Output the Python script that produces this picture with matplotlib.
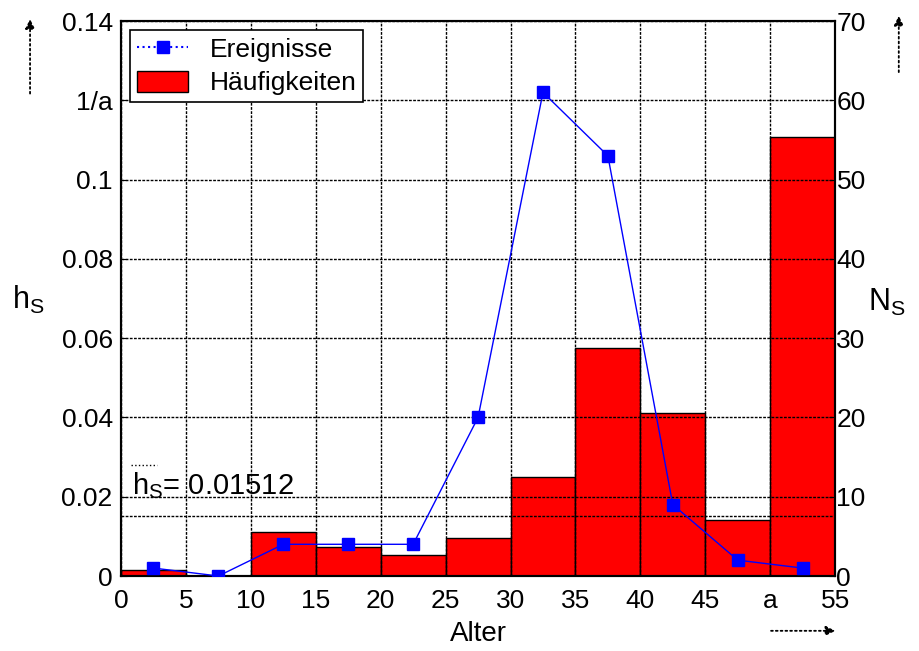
import matplotlib as mpl
mpl.use('agg')
import matplotlib.pyplot as plt
import matplotlib.lines as mlines
import numpy as np

plt.rcParams['font.family'] = ['Liberation Sans', 'DejaVu Sans']
plt.rcParams['mathtext.fontset'] = 'custom'
plt.rcParams['mathtext.rm'] = 'Liberation Sans'

# Haeufigkeiten (bars, left axis)
bin_left = [0, 5, 10, 15, 20, 25, 30, 35, 40, 45, 50]
bin_width = [5, 5, 5, 5, 5, 5, 5, 5, 5, 5, 5]
h_s = [0.0016, 0.0, 0.011, 0.0074, 0.0054, 0.0095, 0.025, 0.0575, 0.0411, 0.0141, 0.1108]

# Ereignisse (line, right axis)
x_mid = [2.5, 7.5, 12.5, 17.5, 22.5, 27.5, 32.5, 37.5, 42.5, 47.5, 52.5]
n_s = [1, 0, 4, 4, 4, 20, 61, 53, 9, 2, 1]

h_mean = 0.01512

xticks = [0, 5, 10, 15, 20, 25, 30, 35, 40, 45, 50, 55]
xticklabels = ['0', '5', '10', '15', '20', '25', '30', '35', '40', '45', 'a', '55']
yticks = [0, 0.02, 0.04, 0.06, 0.08, 0.1, 0.12, 0.14]
yticklabels = ['0', '0.02', '0.04', '0.06', '0.08', '0.1', '1/a', '0.14']
y2ticks = [0, 10, 20, 30, 40, 50, 60, 70]

fig = plt.figure(figsize=(9.19, 6.51), dpi=100)
ax = fig.add_axes([0.1317, 0.1152, 0.777, 0.8525])
ax2 = ax.twinx()

bars = ax.bar(bin_left, h_s, width=bin_width, align='edge', color='#ff0000',
              edgecolor='black', linewidth=1.0, label='Häufigkeiten', zorder=1)
ax.axhline(h_mean, color='black', linestyle=(0, (2, 1)), linewidth=1.0, zorder=3)

ax.set_xlim(0, 55)
ax.set_ylim(0, 0.14)
ax.set_xticks(xticks)
ax.set_xticklabels(xticklabels)
ax.set_yticks(yticks)
ax.set_yticklabels(yticklabels)
ax.grid(True, color='black', linestyle=(0, (2, 1)), linewidth=1.0, zorder=2)
ax.set_axisbelow(False)
ax.tick_params(direction='in', labelsize=19, length=4)
ax.tick_params(axis='y', pad=6)
ax.tick_params(axis='x', pad=9)

line, = ax2.plot(x_mid, n_s, color='blue', linewidth=1.0, marker='s',
                 markersize=9, markeredgecolor='blue', label='Ereignisse', zorder=5)
ax2.set_ylim(0, 70)
ax2.set_yticks(y2ticks)
ax2.tick_params(direction='in', labelsize=19, length=4, pad=1)

for a in (ax, ax2):
    for s in a.spines.values():
        s.set_linewidth(1.5)

ax.set_xlabel('Alter', fontsize=20, labelpad=6)

# legend with dotted line handle
leg_line = mlines.Line2D([], [], color='blue', linestyle=':', linewidth=1.5,
                         marker='s', markersize=9)
leg = ax2.legend([leg_line, bars], ['Ereignisse', 'Häufigkeiten'], loc='upper left',
                 fontsize=19, fancybox=False, edgecolor='black', framealpha=1,
                 borderaxespad=0.35, handlelength=1.95, handleheight=0.85,
                 borderpad=0.25, labelspacing=0.35, handletextpad=0.8)
leg.get_frame().set_linewidth(1.2)

# mean label
ax.text(0.85, 0.0206, r'$\mathrm{h}_\mathrm{S}$= 0.01512', fontsize=21,
        ha='left', va='baseline')
ax.plot([0.77, 2.77], [0.0279, 0.0279], color='black', linestyle=':', linewidth=1.0)

# axis labels with subscripts
fig.text(0.013, 0.54, r'$\mathrm{h}_\mathrm{S}$', fontsize=22, ha='left', va='center')
fig.text(0.945, 0.535, r'$\mathrm{N}_\mathrm{S}$', fontsize=22, ha='left', va='center')

# arrows
arr = dict(arrowstyle='-|>', color='black', linestyle=':', linewidth=1.3, mutation_scale=14)
fig.add_artist(mpl.patches.FancyArrowPatch((0.0327, 0.852), (0.0327, 0.975),
               transform=fig.transFigure, **arr))
fig.add_artist(mpl.patches.FancyArrowPatch((0.978, 0.885), (0.978, 0.98),
               transform=fig.transFigure, **arr))
fig.add_artist(mpl.patches.FancyArrowPatch((0.836, 0.031), (0.912, 0.031),
               transform=fig.transFigure, **arr))

fig.savefig('out.png', dpi=100)
